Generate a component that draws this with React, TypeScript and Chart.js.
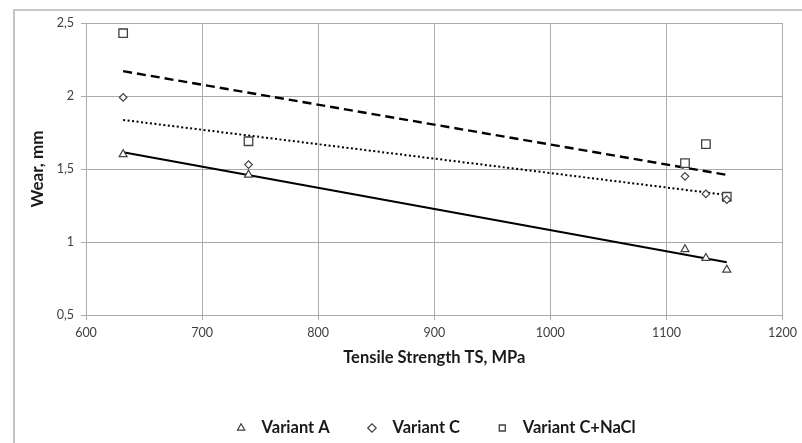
import React, { useEffect, useRef } from "react";
import { Chart, registerables } from "chart.js";

Chart.register(...registerables);

const tensileStrength = [632, 740, 1116, 1134, 1152];
const wearVariantA = [1.6, 1.46, 0.95, 0.89, 0.81];
const wearVariantC = [1.99, 1.53, 1.45, 1.33, 1.29];
const wearVariantCNaCl = [2.43, 1.69, 1.54, 1.67, 1.31];

const trendX = [632, 1152];
const trendVariantA = [1.615, 0.862];
const trendVariantC = [1.836, 1.322];
const trendVariantCNaCl = [2.17, 1.46];

const seriesLabels = ["Variant A", "Variant C", "Variant C+NaCl"];
const xTitle = "Tensile Strength TS, MPa";
const yTitle = "Wear, mm";

const toPoints = (xs: number[], ys: number[]) => xs.map((x, i) => ({ x, y: ys[i] }));

export default function App() {
  const ref = useRef<HTMLCanvasElement>(null);

  useEffect(() => {
    if (!ref.current) return;
    const markerColor = "#404040";
    const gridColor = "#ababab";
    const textColor = "#1a1a1a";
    const chart = new Chart(ref.current, {
      type: "scatter",
      data: {
        datasets: [
          {
            label: seriesLabels[0],
            data: toPoints(tensileStrength, wearVariantA),
            pointStyle: "triangle",
            pointRadius: 4.6,
            pointBorderWidth: 1.2,
            pointBorderColor: markerColor,
            pointBackgroundColor: "#ffffff",
            borderColor: markerColor,
            backgroundColor: "#ffffff",
            order: 0,
          },
          {
            label: seriesLabels[1],
            data: toPoints(tensileStrength, wearVariantC),
            pointStyle: "rectRot",
            pointRadius: 3.8,
            pointBorderWidth: 1.2,
            pointBorderColor: markerColor,
            pointBackgroundColor: "#ffffff",
            borderColor: markerColor,
            backgroundColor: "#ffffff",
            order: 0,
          },
          {
            label: seriesLabels[2],
            data: toPoints(tensileStrength, wearVariantCNaCl),
            pointStyle: "rect",
            pointRadius: 6,
            pointBorderWidth: 1.3,
            pointBorderColor: markerColor,
            pointBackgroundColor: "#ffffff",
            borderColor: markerColor,
            backgroundColor: "#ffffff",
            order: 0,
          },
          {
            label: "trend A",
            data: toPoints(trendX, trendVariantA),
            showLine: true,
            pointRadius: 0,
            borderColor: "#000000",
            borderWidth: 2,
            order: 1,
          },
          {
            label: "trend C",
            data: toPoints(trendX, trendVariantC),
            showLine: true,
            pointRadius: 0,
            borderColor: "#000000",
            borderWidth: 2,
            borderDash: [2, 2.5],
            order: 1,
          },
          {
            label: "trend C+NaCl",
            data: toPoints(trendX, trendVariantCNaCl),
            showLine: true,
            pointRadius: 0,
            borderColor: "#000000",
            borderWidth: 2.4,
            borderDash: [9, 5],
            order: 1,
          },
        ],
      },
      options: {
        responsive: false,
        animation: false,
        devicePixelRatio: 1,
        layout: { padding: { top: 23, left: 0, right: 16, bottom: -3.25 } },
        plugins: {
          tooltip: { enabled: false },
          legend: {
            position: "bottom",
            fullSize: false,
            labels: {
              usePointStyle: true,
              boxWidth: 16.5,
              boxHeight: 6,
              padding: 34,
              color: textColor,
              font: { family: "Lato", size: 16.5, weight: "bold" },
              filter: (item: any) => item.datasetIndex < 3,
              generateLabels: (c: any) =>
                Chart.defaults.plugins.legend.labels
                  .generateLabels(c)
                  .map((it: any) => ({ ...it, text: " " + it.text })),
            },
          },
        },
        scales: {
          x: {
            type: "linear",
            min: 600,
            max: 1200,
            ticks: {
              stepSize: 100,
              padding: 5,
              color: "#404040",
              font: { family: "Lato", size: 12.5 },
              callback: (v: any) => String(v),
            },
            grid: { color: gridColor, tickLength: 5 },
            border: { color: gridColor },
            title: {
              display: true,
              text: xTitle,
              color: textColor,
              font: { family: "Lato", size: 16.5, weight: "bold" },
              padding: { top: 0, bottom: 18.5 },
            },
            afterFit: (s: any) => {
              s.height = 70.75;
            },
          },
          y: {
            type: "linear",
            min: 0.5,
            max: 2.5,
            ticks: {
              stepSize: 0.5,
              padding: 7,
              color: "#404040",
              font: { family: "Lato", size: 12.5 },
              callback: (v: any) => String(v).replace(".", ","),
            },
            grid: { color: gridColor, tickLength: 5 },
            border: { color: gridColor },
            title: {
              display: true,
              text: yTitle,
              color: textColor,
              font: { family: "Lato", size: 17, weight: "bold" },
              padding: { top: 27, bottom: 0 },
            },
            afterFit: (s: any) => {
              s.width = 86;
            },
          },
        },
      },
    } as any);
    return () => chart.destroy();
  }, []);

  return (
    <div style={{ position: "fixed", left: 0, top: 0, width: 802, height: 443, background: "#ffffff", overflow: "hidden" }}>
      <div
        style={{
          position: "absolute",
          left: 13,
          top: 9,
          width: 802,
          height: 443,
          borderLeft: "2px solid #c4c4c4",
          borderTop: "2px solid #c8c8c8",
        }}
      />
      <canvas ref={ref} width={802} height={443} style={{ position: "absolute", left: 0, top: 0 }} />
    </div>
  );
}
